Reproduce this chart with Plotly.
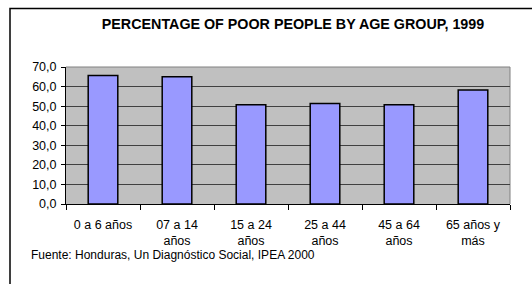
import plotly.graph_objects as go

categories = ["0 a 6 años", "07 a 14<br>años", "15 a 24<br>años", "25 a 44<br>años", "45 a 64<br>años", "65 años y<br>más"]
values = [65.7, 65.0, 50.7, 51.3, 50.7, 58.3]
y_ticks = [0, 10, 20, 30, 40, 50, 60, 70]

FONT = "Liberation Sans, Arial, sans-serif"

fig = go.Figure()
fig.add_trace(go.Bar(
    x=categories, y=values,
    marker=dict(color="#9999FF", line=dict(color="black", width=1.5)),
    width=0.4,
    hoverinfo="skip",
))

W, H = 532, 284
l, r, t, b = 66, 22, 67, 80
pw, ph = W - l - r, H - t - b

def px_x(x):
    return (x - l) / pw

def px_y(y):
    return 1 - (y - t) / ph

fig.update_layout(
    width=W, height=H,
    margin=dict(l=l, r=r, t=t, b=b, pad=0, autoexpand=False),
    paper_bgcolor="white",
    plot_bgcolor="#C0C0C0",
    separators=",.",
    showlegend=False,
    font=dict(family=FONT, size=12.5, color="black"),
    title=dict(
        text="<b>PERCENTAGE OF POOR PEOPLE BY AGE GROUP, 1999</b>",
        x=px_x(293), xref="paper", xanchor="center",
        y=1 - 24 / H, yref="container", yanchor="middle",
        font=dict(family=FONT, size=14.3, color="black"),
    ),
    xaxis=dict(
        showline=True, linecolor="black", linewidth=1,
        ticks="outside", ticklen=5, tickcolor="black", tickson="boundaries",
        ticklabelstandoff=9,
        showgrid=False, tickfont=dict(size=12.5), fixedrange=True, automargin=False,
    ),
    yaxis=dict(
        range=[0, 70], tickvals=y_ticks, tickformat=".1f",
        showline=True, linecolor="black", linewidth=1,
        ticks="outside", ticklen=4, tickcolor="black",
        ticklabelstandoff=2,
        showgrid=True, gridcolor="#404040", gridwidth=1,
        zeroline=False, tickfont=dict(size=12.5), fixedrange=True, automargin=False,
    ),
    shapes=[
        dict(type="line", xref="paper", yref="paper", x0=0, x1=1, y0=1, y1=1,
             line=dict(color="#808080", width=1), layer="below"),
        dict(type="line", xref="paper", yref="paper", x0=1, x1=1, y0=0, y1=1,
             line=dict(color="#808080", width=1), layer="below"),
        dict(type="rect", xref="paper", yref="paper",
             x0=px_x(10), x1=px_x(560), y0=px_y(8.5), y1=px_y(300),
             line=dict(color="black", width=1.5), fillcolor="rgba(0,0,0,0)"),
    ],
    annotations=[
        dict(text="Fuente: Honduras, Un Diagnóstico Social, IPEA 2000",
             xref="paper", yref="paper", x=px_x(29), y=px_y(255),
             xanchor="left", yanchor="middle", showarrow=False,
             font=dict(family=FONT, size=12, color="black")),
    ],
)

fig.write_html(
    "out.html",
    config={"displayModeBar": False, "staticPlot": True},
    post_script="document.body.style.margin='0px';document.body.style.overflow='hidden';",
)
